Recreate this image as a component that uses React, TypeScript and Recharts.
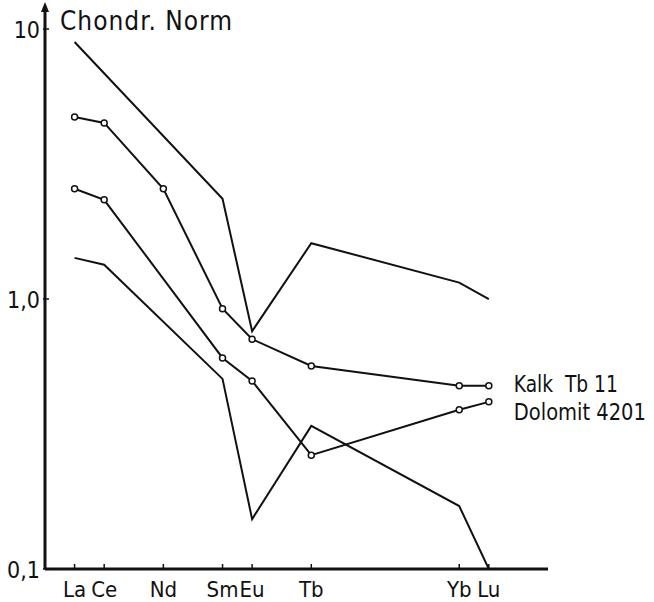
import React from 'react';
import { LineChart, Line, XAxis, YAxis } from 'recharts';

// Elemente (Seltene Erden) und ihre Ordnungszahlen für die x-Achse
const elements = ['La', 'Ce', 'Nd', 'Sm', 'Eu', 'Tb', 'Yb', 'Lu'];
const atomicNumbers = [57, 58, 60, 62, 63, 65, 70, 71];

// Chondrit-normierte Gehalte
const upperLine = [8.95, null, null, 2.35, 0.76, 1.61, 1.15, 1.0];
const kalkTb11 = [4.72, 4.49, 2.56, 0.92, 0.71, 0.565, 0.477, 0.477];
const dolomit4201 = [2.56, 2.33, null, 0.605, 0.497, 0.264, 0.389, 0.416];
const lowerLine = [1.42, 1.34, null, 0.506, 0.153, 0.339, 0.171, 0.1];

const yTicks = [0.1, 1, 10];
const yTickLabels = ['0,1', '1,0', '10'];

const font = '"DejaVu Sans Condensed", "DejaVu Sans", sans-serif';
const ink = '#111';

const data = atomicNumbers.map((z, i) => ({
  z,
  upper: upperLine[i],
  kalk: kalkTb11[i],
  dolomit: dolomit4201[i],
  lower: lowerLine[i],
}));

const XTick = ({ x, y, payload }: any) => {
  const idx = atomicNumbers.indexOf(payload.value);
  return (
    <g>
      <line x1={x} x2={x} y1={y} y2={y - 5} stroke={ink} strokeWidth={1.5} />
      <text x={x} y={y + 28} textAnchor="middle" fontFamily={font} fontSize={22} fill={ink}>
        {elements[idx]}
      </text>
    </g>
  );
};

const YTick = ({ x, y, payload }: any) => {
  const idx = yTicks.indexOf(payload.value);
  return (
    <g>
      <line x1={x + 4} x2={x - 2} y1={y} y2={y} stroke={ink} strokeWidth={1.5} />
      <text x={x - 5} y={y + 9} textAnchor="end" fontFamily={font} fontSize={23} fill={ink}>
        {yTickLabels[idx]}
      </text>
    </g>
  );
};

// Kreis-Marker für die beiden beschrifteten Proben
const Ring = ({ cx, cy }: any) =>
  cx == null || cy == null ? null : (
    <circle cx={cx} cy={cy} r={3} fill="#fff" stroke={ink} strokeWidth={1.5} />
  );

const endLabel = (text: string, dy: number, len: number) => ({ x, y, index }: any) =>
  index === atomicNumbers.length - 1 ? (
    <text
      x={x + 25}
      y={y + dy}
      fontFamily={font}
      fontSize={23}
      fill={ink}
      textLength={len}
      lengthAdjust="spacingAndGlyphs"
    >
      {text}
    </text>
  ) : null;

export default function App() {
  return (
    <div style={{ position: 'absolute', left: 0, top: 0, width: 654, height: 602, background: '#fff' }}>
      <LineChart width={654} height={602} data={data} margin={{ top: 10, right: 106, bottom: 0, left: 0 }}>
        <XAxis
          dataKey="z"
          type="number"
          domain={[56, 73]}
          ticks={atomicNumbers}
          tick={<XTick />}
          tickLine={false}
          tickSize={0}
          tickMargin={0}
          height={33}
          axisLine={{ stroke: ink, strokeWidth: 3 }}
        />
        <YAxis
          scale="log"
          type="number"
          domain={[0.1, 11.76]}
          allowDataOverflow
          ticks={yTicks}
          tick={<YTick />}
          tickLine={false}
          tickSize={0}
          tickMargin={0}
          width={45}
          axisLine={{ stroke: ink, strokeWidth: 3 }}
        />
        <Line dataKey="upper" stroke={ink} strokeWidth={2} dot={false} connectNulls isAnimationActive={false} />
        <Line
          dataKey="kalk"
          stroke={ink}
          strokeWidth={2}
          dot={<Ring />}
          connectNulls
          isAnimationActive={false}
          label={endLabel('Kalk\u00a0\u00a0Tb\u00a011', 6, 104)}
        />
        <Line
          dataKey="dolomit"
          stroke={ink}
          strokeWidth={2}
          dot={<Ring />}
          connectNulls
          isAnimationActive={false}
          label={endLabel('Dolomit 4201', 18, 132)}
        />
        <Line dataKey="lower" stroke={ink} strokeWidth={2} dot={false} connectNulls isAnimationActive={false} />
      </LineChart>
      {/* Pfeilspitze der y-Achse und Achsentitel */}
      <svg style={{ position: 'absolute', left: 0, top: 0 }} width={120} height={40}>
        <polygon points="41,12 49,12 45,2" fill={ink} />
      </svg>
      <div
        style={{
          position: 'absolute',
          left: 60,
          top: 6,
          fontFamily: font,
          fontSize: 26,
          color: ink,
          letterSpacing: 1,
        }}
      >
        Chondr. Norm
      </div>
    </div>
  );
}
